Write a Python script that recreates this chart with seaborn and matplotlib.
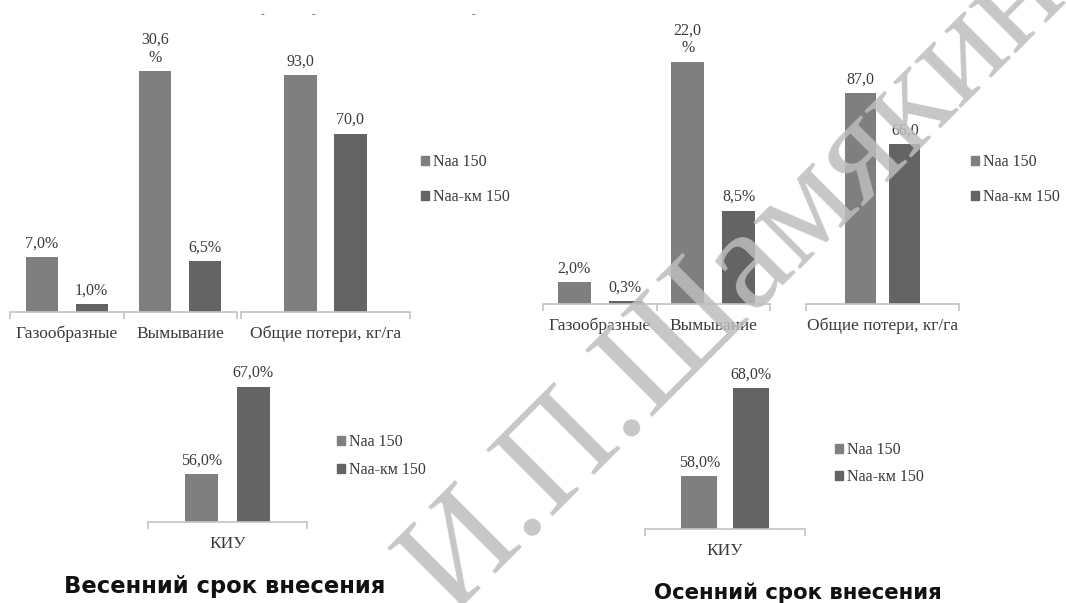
import matplotlib
matplotlib.use("Agg")
import matplotlib.pyplot as plt
import pandas as pd
import seaborn as sns

# ---- data ----
series = ["Naa 150", "Naa-км 150"]
loss_cats = ["Газообразные", "Вымывание"]
total_cats = ["Общие потери, кг/га"]
kiu_cats = ["КИУ"]

spring_loss_naa = [7.0, 30.6]
spring_loss_km = [1.0, 6.5]
spring_total_naa = [93.0]
spring_total_km = [70.0]
spring_kiu_naa = [56.0]
spring_kiu_km = [67.0]

autumn_loss_naa = [2.0, 22.0]
autumn_loss_km = [0.3, 8.5]
autumn_total_naa = [87.0]
autumn_total_km = [66.0]
autumn_kiu_naa = [58.0]
autumn_kiu_km = [68.0]

title_spring = "Весенний срок внесения"
title_autumn = "Осенний срок внесения"
watermark = "И.П.Шамякин"

# ---- style ----
sns.set_style("white")
plt.rcParams["font.family"] = ["Liberation Serif", "DejaVu Serif"]

W, H = 1066, 603
DPI = 100
colors = {"Naa 150": "#7f7f7f", "Naa-км 150": "#646464"}
TEXT = "#3a3a3a"
AXIS = "#c4c4c4"

fig = plt.figure(figsize=(W / DPI, H / DPI), dpi=DPI)


def px_axes(left, top, right, bottom):
    return fig.add_axes([left / W, 1 - bottom / H, (right - left) / W, (bottom - top) / H])


def pct(v):
    return f"{v:.1f}%".replace(".", ",")


def num(v):
    return f"{v:.1f}".replace(".", ",")


def panel(rect, cats, naa, km, ylim, width, gap, fmt, wrap=None):
    ax = px_axes(*rect)
    df = pd.DataFrame({
        "cat": cats * 2,
        "series": [s for s in series for _ in cats],
        "val": naa + km,
    })
    sns.barplot(data=df, x="cat", y="val", hue="series", order=cats,
                hue_order=series, palette=colors, saturation=1,
                width=width, gap=gap, legend=False, ax=ax,
                linewidth=0, edgecolor="none")
    for cont, vals, wr in zip(ax.containers, [naa, km],
                              wrap or [[False] * len(cats)] * 2):
        labels = []
        for v, w in zip(vals, wr):
            s = fmt(v)
            if w:
                s = s[:-1] + "\n%"
            labels.append(s)
        ax.bar_label(cont, labels=labels, padding=4, fontsize=11.5,
                     color=TEXT, linespacing=1.15)
    n = len(cats)
    ax.set_xlim(-0.5, n - 0.5)
    ax.set_ylim(*ylim)
    for side in ["left", "right", "top"]:
        ax.spines[side].set_visible(False)
    ax.spines["bottom"].set_color(AXIS)
    ax.spines["bottom"].set_linewidth(1.2)
    ax.set_yticks([])
    ax.set_xticks([i - 0.5 for i in range(n + 1)])
    ax.set_xticklabels([])
    ax.tick_params(axis="x", which="major", length=5, width=1.2, color=AXIS,
                   direction="out", bottom=True)
    ax.set_xticks(range(n), minor=True)
    ax.set_xticklabels(cats, minor=True, fontsize=12.5, color=TEXT)
    ax.tick_params(axis="x", which="minor", length=0, pad=10)
    ax.set_xlabel("")
    ax.set_ylabel("")
    ax.patch.set_alpha(0)
    return ax


def legend_at(ax, left, top, spacing):
    handles = [plt.Rectangle((0, 0), 1, 1, color=colors[s]) for s in series]
    ax.legend(handles, series, loc="upper left",
              bbox_to_anchor=(left / W, 1 - top / H),
              bbox_transform=fig.transFigure, frameon=False,
              prop={"family": "Liberation Serif", "size": 11.5},
              labelcolor=TEXT, handlelength=0.5,
              handleheight=0.5, handletextpad=0.25, labelspacing=spacing,
              borderpad=0, borderaxespad=0)


# spring application
panel((10, 40, 237, 312), loss_cats, spring_loss_naa, spring_loss_km,
      (0, 34.6), 0.88, 0.36, pct, wrap=[[False, True], [False, False]])
ax = panel((241, 40, 410, 312), total_cats, spring_total_naa, spring_total_km,
           (0, 106.7), 0.586, 0.335, num)
legend_at(ax, 421, 154, 1.2)
ax = panel((148, 360, 307, 522), kiu_cats, spring_kiu_naa, spring_kiu_km,
           (50, 70.35), 0.648, 0.35, pct)
legend_at(ax, 337, 434, 0.76)

# autumn application
panel((543, 40, 770, 304), loss_cats, autumn_loss_naa, autumn_loss_km,
      (0, 24.0), 0.9, 0.36, pct, wrap=[[False, True], [False, False]])
ax = panel((806, 40, 959, 304), total_cats, autumn_total_naa, autumn_total_km,
           (0, 109.1), 0.582, 0.31, num)
legend_at(ax, 971, 154, 1.2)
ax = panel((645, 360, 805, 529), kiu_cats, autumn_kiu_naa, autumn_kiu_km,
           (52, 71.2), 0.644, 0.31, pct)
legend_at(ax, 835, 442, 0.7)

# section titles
fig.text(225 / W, 1 - 587 / H, title_spring, ha="center", va="center",
         fontsize=16.3, fontweight="bold", family="DejaVu Sans", color="#111111")
fig.text(798 / W, 1 - 593 / H, title_autumn, ha="center", va="center",
         fontsize=15.3, fontweight="bold", family="DejaVu Sans", color="#111111")

# remnants of a cut-off heading line
for x in (262, 313, 473):
    fig.text(x / W, 1 - 15 / H, "-", ha="center", va="center",
             fontsize=8, color="#555555")

# diagonal watermark
fig.text(450 / W, 1 - 615 / H, watermark, rotation=45, rotation_mode="anchor",
         ha="left", va="baseline", fontsize=104, family="Liberation Serif",
         color="#bdbdbd", alpha=0.85, zorder=10)

fig.savefig("out.png", dpi=DPI)
